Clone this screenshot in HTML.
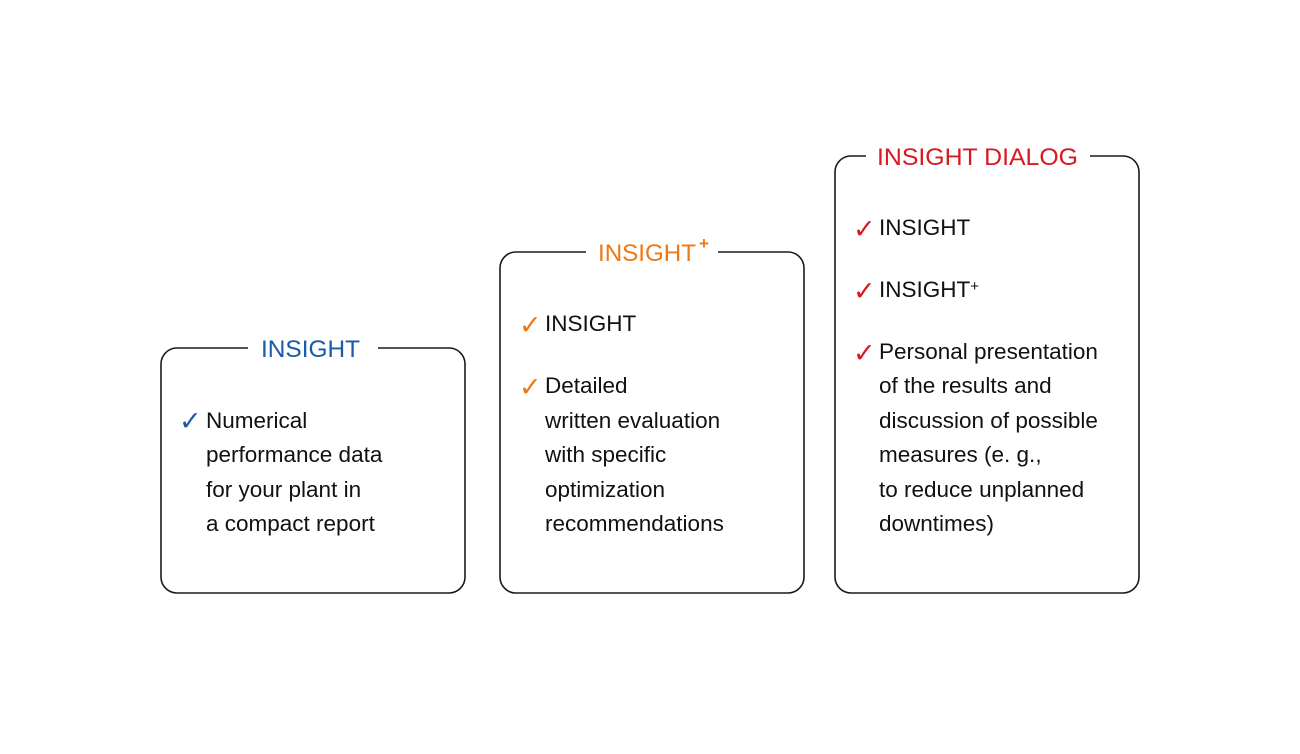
<!DOCTYPE html>
<html><head><meta charset="utf-8"><style>
html,body{margin:0;padding:0;background:#fff;width:1300px;height:754px;overflow:hidden}
svg{display:block}
text{font-family:"Liberation Sans",sans-serif}
.t{font-size:22.5px;fill:#111}
.c{font-family:"DejaVu Sans",sans-serif;font-size:27px;font-weight:bold}
</style></head><body>
<svg width="1300" height="754" viewBox="0 0 1300 754">
<g fill="none" stroke="#1a1a1a" stroke-width="1.6">
<path d="M248 348 H177 a16 16 0 0 0 -16 16 V577 a16 16 0 0 0 16 16 H449 a16 16 0 0 0 16 -16 V364 a16 16 0 0 0 -16 -16 H378"/>
<path d="M586 252 H516 a16 16 0 0 0 -16 16 V577 a16 16 0 0 0 16 16 H788 a16 16 0 0 0 16 -16 V268 a16 16 0 0 0 -16 -16 H718"/>
<path d="M866 156 H851 a16 16 0 0 0 -16 16 V577 a16 16 0 0 0 16 16 H1123 a16 16 0 0 0 16 -16 V172 a16 16 0 0 0 -16 -16 H1090"/>
</g>
<text x="261" y="357" font-size="24" fill="#1a5aa8" textLength="99" lengthAdjust="spacingAndGlyphs">INSIGHT</text>
<text x="598" y="261" font-size="24" fill="#f07814" textLength="98" lengthAdjust="spacingAndGlyphs">INSIGHT</text>
<text x="699" y="249" font-size="17" fill="#f07814" font-weight="bold">+</text>
<text x="877" y="165" font-size="24" fill="#d71920" textLength="201" lengthAdjust="spacingAndGlyphs">INSIGHT DIALOG</text>

<text x="179" y="430" class="c" fill="#1a5aa8">✓</text>
<text x="206" y="428" class="t">Numerical</text>
<text x="206" y="462" class="t">performance data</text>
<text x="206" y="497" class="t">for your plant in</text>
<text x="206" y="531" class="t">a compact report</text>

<text x="519" y="334" class="c" fill="#f07814">✓</text>
<text x="545" y="331" class="t">INSIGHT</text>
<text x="519" y="396" class="c" fill="#f07814">✓</text>
<text x="545" y="393" class="t">Detailed</text>
<text x="545" y="428" class="t">written evaluation</text>
<text x="545" y="462" class="t">with specific</text>
<text x="545" y="497" class="t">optimization</text>
<text x="545" y="531" class="t">recommendations</text>

<text x="853" y="238" class="c" fill="#d71920">✓</text>
<text x="879" y="235" class="t">INSIGHT</text>
<text x="853" y="300" class="c" fill="#d71920">✓</text>
<text x="879" y="297" class="t">INSIGHT<tspan font-size="15" dy="-6">+</tspan></text>
<text x="853" y="362" class="c" fill="#d71920">✓</text>
<text x="879" y="359" class="t">Personal presentation</text>
<text x="879" y="393" class="t">of the results and</text>
<text x="879" y="428" class="t">discussion of possible</text>
<text x="879" y="462" class="t">measures (e. g.,</text>
<text x="879" y="497" class="t">to reduce unplanned</text>
<text x="879" y="531" class="t">downtimes)</text>
</svg>
</body></html>
